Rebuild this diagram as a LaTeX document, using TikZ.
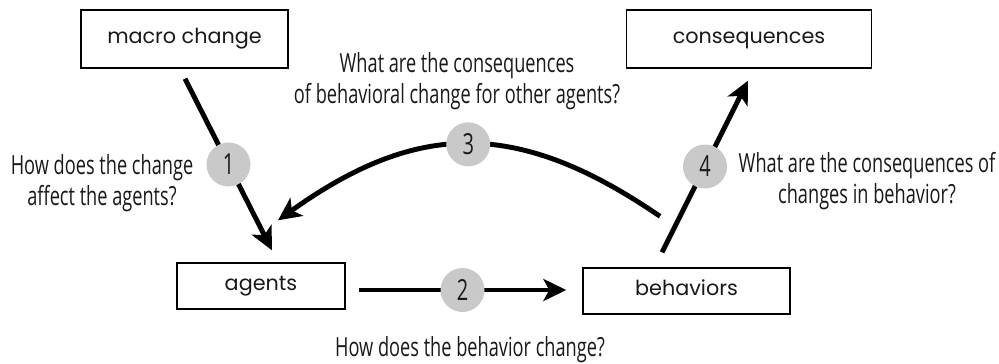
\documentclass[tikz,border=0pt]{standalone}
\usepackage{fontspec}
\setmainfont[FakeStretch=0.69]{Open Sans}
\newfontfamily\boxfont{Poppins}
\usetikzlibrary{positioning}
\usetikzlibrary{arrows.meta}
\usetikzlibrary{calc}
\definecolor{gray(circle)}{rgb}{0.79, 0.79, 0.79}
\definecolor{ink}{rgb}{0.1, 0.1, 0.1}
\tikzset {
        recnode/.style={align=center, inner sep=0pt, rectangle, draw, line width=0.8pt, text=ink, text height=1.5ex, text depth=0.5ex, minimum height=1.16cm, font=\boxfont\fontsize{11.8}{15}\selectfont},
        numnode/.style={circle, fill=gray(circle), inner sep=0pt, minimum size=0.88cm, text=ink, font=\fontsize{16.5}{18}\selectfont},
        qnode/.style={align=center, inner sep=0pt, text=ink, font=\fontsize{15}{17.6}\selectfont},
        conn/.style={line width=2.8pt, -{Stealth[length=0.46cm, width=0.44cm, inset=0.12cm]}}
}
\begin{document}
\begin{tikzpicture}[x=0.02cm, y=0.02cm]
            \useasboundingbox (0,0) rectangle (999,363);
            % boxes
            \node[recnode, minimum width=4.14cm] (MacroChange) at (184.5,324) {macro change};
            \node[recnode, minimum width=4.9cm] (Consequences) at (749,324) {consequences};
            \node[recnode, minimum width=3.36cm, minimum height=0.92cm] (Agents) at (261,77) {agents};
            \node[recnode, minimum width=4.14cm, minimum height=0.92cm] (Behaviors) at (686.5,72) {behaviors};
            % connector ends
            \coordinate (OneStart) at ($(MacroChange.south)+(0.5,-10)$);
            \coordinate (OneEnd) at ($(Agents.north)+(11,12)$);
            \coordinate (TwoStart) at ($(Agents.east)+(13,-4)$);
            \coordinate (TwoEnd) at ($(Behaviors.west)+(-16,1)$);
            \coordinate (ThreeStart) at ($(Behaviors.north)+(-26.5,51)$);
            \coordinate (ThreeEnd) at ($(Agents.north)+(17,42)$);
            \coordinate (FourStart) at ($(Behaviors.north)+(-24.5,15)$);
            \coordinate (FourEnd) at ($(Consequences.south)+(-1,-12)$);
            % connectors
            \draw[conn] (OneStart) -- node[numnode] {1} (OneEnd);
            \draw[conn] (TwoStart) -- node[numnode] {2} (TwoEnd);
            \draw[conn] (ThreeStart) to[bend right=35, looseness=1.15] node[numnode] {3} (ThreeEnd);
            \draw[conn] (FourStart) -- node[numnode] {4} (FourEnd);
            % questions
            \node[qnode] (AffectQ) at (102,180) {How does the change\\affect the agents?};
            \node[qnode] (OthersQ) at (457,281.5) {What are the consequences\\of behavioral change for other agents?};
            \node[qnode] (ConseqQ) at (867,182) {What are the consequences of\\changes in behavior?};
            \node[qnode, anchor=base] (BehaviorQ) at (470,7) {How does the behavior change?};
        \end{tikzpicture}
\end{document}
